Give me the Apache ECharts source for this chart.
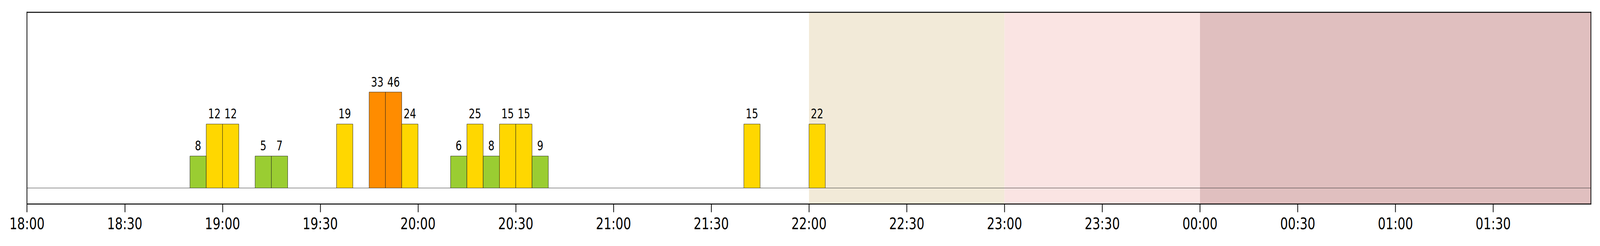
<!DOCTYPE html>
<html>
<head>
<meta charset="utf-8">
<title>Events per 5 minutes</title>
<script src="https://cdn.jsdelivr.net/npm/echarts@6/dist/echarts.min.js"></script>
<style>
  html, body { margin: 0; padding: 0; background: #fff; overflow: hidden; }
  #chart { width: 5370px; height: 630px; transform-origin: 0 0; }
</style>
</head>
<body>
<div id="chart"></div>
<script>
// 5-minute bins (start time), count shown on top, level = bar height band
const binStarts = ["18:50", "18:55", "19:00", "19:10", "19:15", "19:35", "19:45", "19:50", "19:55",
  "20:10", "20:15", "20:20", "20:25", "20:30", "20:35", "21:40", "22:00"];
const counts = [8, 12, 12, 5, 7, 19, 33, 46, 24, 6, 25, 8, 15, 15, 9, 15, 22];
const levels = [1, 2, 2, 1, 1, 2, 3, 3, 2, 1, 2, 1, 2, 2, 1, 2, 2];

// shaded periods of the night
const bandStarts = ["22:00", "23:00", "00:00"];
const bandEnds = ["23:00", "00:00", "02:00"];

const tickLabels = ["18:00", "18:30", "19:00", "19:30", "20:00", "20:30", "21:00", "21:30",
  "22:00", "22:30", "23:00", "23:30", "00:00", "00:30", "01:00", "01:30"];

const levelColors = { 1: "#9acd32", 2: "#ffd700", 3: "#ff8c00" };
const bandColors = ["#f2ead8", "#fae4e3", "#e0bfbf"];
const BIN = 5;
const FONT = "DejaVu Sans";

// minutes after 18:00 (wraps past midnight, 02:00 is the end)
const toMin = (t) => {
  const [h, m] = t.split(":").map(Number);
  let v = (h * 60 + m - 18 * 60 + 1440) % 1440;
  if (h === 2 && m === 0) v = 480;
  return v;
};
const fmt = (v) => {
  const total = (18 * 60 + v) % 1440;
  const h = Math.floor(total / 60), m = total % 60;
  return String(h).padStart(2, "0") + ":" + String(m).padStart(2, "0");
};

const tickValues = tickLabels.map(toMin);
const barData = binStarts.map((t, i) => [toMin(t), levels[i], counts[i]]);
const bandData = bandStarts.map((s, i) => [
  { xAxis: toMin(s), itemStyle: { color: bandColors[i] } },
  { xAxis: toMin(bandEnds[i]) }
]);

// the window may be narrower than the 5370px figure: fit it in
const $chart = document.getElementById("chart");
const sx = Math.min(1, window.innerWidth / 5370),
  sy = Math.min(1, window.innerHeight / 630);
if (sx < 1 || sy < 1) $chart.style.transform = `scale(${sx}, ${sy})`;

const frameLine = { show: true, onZero: false, lineStyle: { color: "#000", width: 2.5 } };

const chart = echarts.init($chart, null, { renderer: "svg" });

chart.setOption({
  animation: false,
  backgroundColor: "#fff",
  grid: { left: 90.7, right: 30.3, top: 31, bottom: 107.5 },
  xAxis: [
    {
      type: "value", position: "bottom", min: 0, max: 480, interval: 30, z: 10,
      axisLine: frameLine,
      axisTick: { show: true, length: 21, customValues: tickValues, lineStyle: { color: "#000", width: 2.5 } },
      axisLabel: {
        customValues: tickValues, formatter: (v) => fmt(v),
        fontFamily: FONT, fontSize: 41, color: "#000", margin: 30
      },
      splitLine: { show: false }
    },
    {
      type: "value", position: "top", min: 0, max: 480, z: 10,
      axisLine: frameLine, axisTick: { show: false }, axisLabel: { show: false }, splitLine: { show: false }
    }
  ],
  yAxis: [
    {
      type: "value", position: "left", min: -0.5, max: 5.5, z: 10,
      axisLine: frameLine, axisTick: { show: false }, axisLabel: { show: false }, splitLine: { show: false }
    },
    {
      type: "value", position: "right", min: -0.5, max: 5.5, z: 10,
      axisLine: frameLine, axisTick: { show: false }, axisLabel: { show: false }, splitLine: { show: false }
    }
  ],
  series: [
    {
      // background bands + zero baseline
      type: "line", data: [], z: 1, silent: true,
      markArea: { silent: true, data: bandData },
      markLine: {
        silent: true, symbol: "none", label: { show: false },
        lineStyle: { color: "#333", width: 1.2, type: "solid" },
        data: [{ yAxis: 0 }]
      }
    },
    {
      type: "custom", z: 3,
      data: barData,
      encode: { x: 0, y: 1 },
      renderItem: (params, api) => {
        const x0 = api.value(0), lvl = api.value(1), n = api.value(2);
        const p0 = api.coord([x0, 0]);
        const p1 = api.coord([x0 + BIN, lvl]);
        return {
          type: "group",
          children: [
            {
              type: "rect",
              shape: { x: p0[0], y: p1[1], width: p1[0] - p0[0], height: p0[1] - p1[1] },
              style: { fill: levelColors[lvl], stroke: "#1a1a1a", lineWidth: 1 }
            },
            {
              type: "text",
              style: {
                text: String(n), x: (p0[0] + p1[0]) / 2, y: p1[1] - 9,
                align: "center", verticalAlign: "bottom",
                fontFamily: FONT, fontSize: 33, fill: "#000"
              }
            }
          ]
        };
      }
    }
  ]
});
</script>
</body>
</html>
